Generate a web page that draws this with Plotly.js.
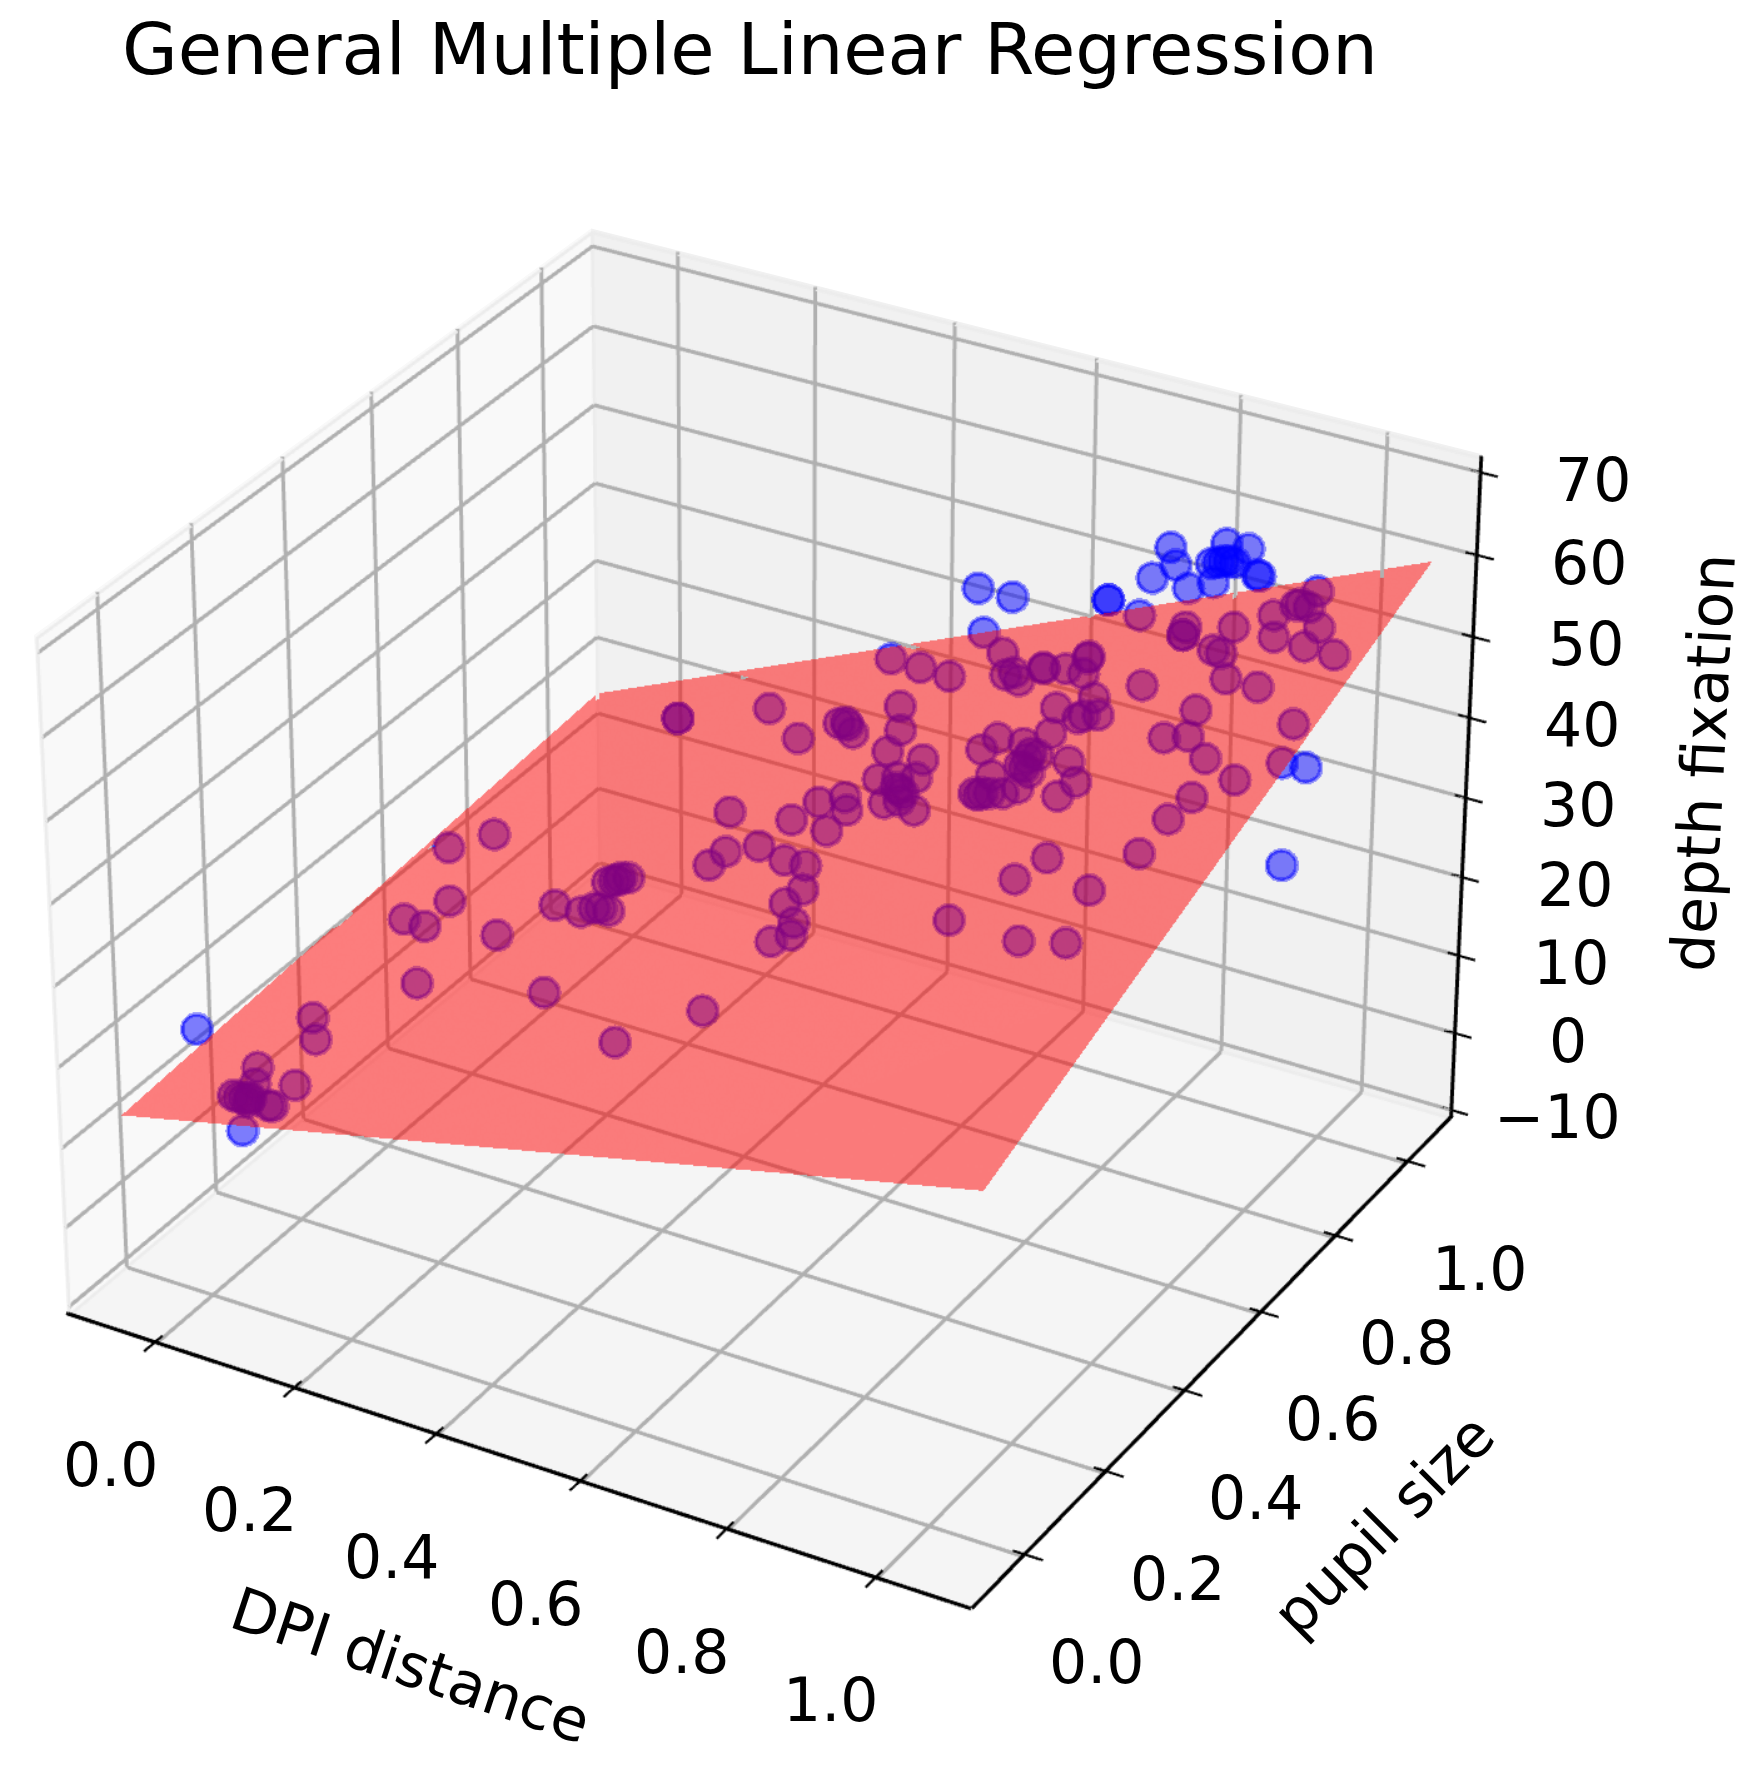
<!DOCTYPE html><html><head><meta charset="utf-8">
<script src="https://cdn.plot.ly/plotly-3.0.0.min.js"></script>
<style>html,body{margin:0;padding:0;width:1753px;height:1775px;overflow:hidden;background:#fff}
#g{position:absolute;left:-2832px;top:-2717px;width:7208px;height:7208px}</style></head><body><div id="g"></div>
<script>
const dpiDistance=[-0.112,0.119,-0.034,0.021,0.067,0.024,0.070,0.197,0.150,0.240,0.289,0.303,0.313,0.328,0.347,0.047,0.086,0.045,0.126,0.066,0.053,0.064,0.073,0.080,0.081,0.085,0.119,0.126,0.299,0.312,0.293,0.286,0.299,0.506,0.132,0.132,0.277,0.372,0.416,0.426,0.433,0.452,0.407,0.468,0.526,0.489,0.522,0.530,0.592,0.551,0.577,0.604,0.595,0.587,0.604,0.589,0.607,0.640,0.372,0.493,0.525,0.544,0.476,0.540,0.420,0.414,0.462,0.517,0.553,0.578,0.570,0.604,0.615,0.595,0.806,0.869,0.849,0.954,0.914,0.975,0.585,0.580,0.612,0.621,0.638,0.659,0.661,0.694,0.725,0.715,0.714,0.724,0.675,0.665,0.718,0.745,0.772,0.767,0.767,0.792,0.800,0.831,0.821,0.708,0.739,0.740,0.751,0.745,0.736,0.757,0.759,0.744,0.725,0.712,0.704,0.715,0.503,0.573,0.522,0.729,0.729,0.743,0.763,0.791,0.770,0.835,0.866,0.844,0.882,0.858,0.852,0.866,0.876,0.843,0.921,0.926,1.021,1.114,1.110,0.961,0.976,0.956,0.935,0.956,1.008,1.005,1.052,0.891,0.823,0.827,0.827,0.885,0.899,0.930,0.981,0.822,0.920,0.904,0.935,0.978,1.061,1.080,1.036,0.997,0.987,0.982];
const pupilSize=[0.149,-0.100,0.608,0.628,0.449,0.411,0.386,0.350,0.241,0.416,0.396,0.404,0.403,0.397,0.215,0.166,0.112,0.046,0.004,0.008,-0.020,-0.025,-0.027,-0.027,-0.025,-0.036,-0.043,-0.045,0.474,0.471,0.468,0.464,0.468,0.115,0.893,0.893,0.874,0.781,0.806,0.806,0.798,0.777,0.953,0.919,0.888,0.830,0.772,0.726,0.703,0.665,0.667,0.665,0.639,0.645,0.632,0.612,0.617,0.595,0.613,0.621,0.629,0.600,0.584,0.558,0.521,0.491,0.529,0.496,0.484,0.434,0.405,0.367,0.341,0.328,0.383,0.508,0.465,0.455,0.356,0.359,0.185,0.926,0.875,0.880,0.861,0.885,0.882,0.878,0.865,0.895,0.900,0.798,0.741,0.718,0.727,0.745,0.779,0.773,0.814,0.778,0.689,0.649,0.622,0.664,0.706,0.696,0.702,0.678,0.683,0.668,0.637,0.627,0.628,0.624,0.628,0.628,1.002,0.962,0.983,0.919,0.919,0.976,1.016,0.976,0.955,0.925,0.930,1.007,0.991,0.972,0.970,0.971,0.966,0.969,0.938,0.935,0.901,0.695,0.647,0.978,0.971,0.975,0.958,0.918,0.935,0.902,0.888,0.939,0.944,0.929,0.929,0.897,0.891,0.844,0.828,0.834,0.786,0.735,0.738,0.700,0.766,0.700,0.664,0.630,0.589,0.526];
const depthFixation=[12.6,17.8,17.1,19.3,19.9,18.2,19.6,23.4,21.1,25.3,26.6,27.1,27.4,27.7,26.3,17.5,18.3,16.8,18.7,17.1,16.6,16.9,17.1,17.3,17.3,17.4,18.2,18.4,27.7,28.1,27.4,27.2,27.6,29.0,25.5,25.5,31.1,33.6,35.5,35.9,36.0,36.4,37.2,39.0,40.6,38.4,38.7,38.2,39.7,37.9,38.7,39.4,38.8,38.6,38.9,38.2,38.7,39.3,31.6,35.5,36.6,36.7,34.5,35.9,31.9,31.4,33.3,34.4,35.2,35.1,34.5,34.7,34.6,33.9,39.5,43.1,41.9,43.7,41.0,42.2,31.7,43.2,43.4,43.7,43.9,45.0,45.1,46.0,46.7,47.1,47.1,45.3,42.8,42.1,43.8,44.9,46.3,46.1,46.9,46.9,45.2,45.2,44.4,42.3,44.0,43.8,44.2,43.6,43.4,43.7,43.2,42.6,42.1,41.7,41.6,41.9,46.3,48.5,42.0,53.6,53.6,49.7,56.9,57.0,55.8,57.3,58.5,59.6,60.5,59.2,59.0,59.5,59.7,58.7,60.4,60.5,62.3,52.0,42.2,56.2,56.4,56.0,55.0,54.5,56.2,55.2,55.9,53.3,51.5,51.2,51.2,52.1,52.3,51.9,52.8,48.9,50.3,48.7,49.5,49.5,52.9,51.5,49.9,48.3,47.2,45.7];
const planeX=[-0.0749,1.1036,1.1036,-0.0749];
const planeY=[-0.0700,-0.0700,1.0456,1.0393];
const planeZ=[12.94,36.10,61.88,17.42];
const xTicks=[0,.2,.4,.6,.8,1],yTicks=[0,.2,.4,.6,.8,1],zTicks=[-10,0,10,20,30,40,50,60,70];
const rx=[-.13,1.125],ry=[-.125,1.128],rz=[-11.39,72];
const [x0,x1]=rx,[y0,y1]=ry,[z0,z1]=rz;
const padXY=.05,padZ=3;
const ex=.004,ez=.3;
const xa=x0+ex,yb=y1-ex,za=z0+ez,zb=z1-ez;
function seg(list){const X=[],Y=[],Z=[];list.forEach(l=>{l.forEach(p=>{X.push(p[0]);Y.push(p[1]);Z.push(p[2])});X.push(null);Y.push(null);Z.push(null)});return {x:X,y:Y,z:Z};}
const line=(s,color,width)=>Object.assign({type:'scatter3d',mode:'lines',line:{color,width},hoverinfo:'skip',connectgaps:false},s);
const flat={ambient:1,diffuse:0,specular:0,roughness:1,fresnel:0};
const edges=seg([[[xa,y0,za],[xa,y0,zb],[xa,yb,zb],[x1,yb,zb]],[[xa,y0,za],[xa,yb,za],[x1,yb,za]],[[xa,yb,za],[xa,yb,zb]]]);
const grid=seg([...xTicks.map(v=>[[v,y0,za],[v,yb,za],[v,yb,z1]]),...yTicks.map(v=>[[x1,v,za],[xa,v,za],[xa,v,z1]]),...zTicks.map(v=>[[xa,y0,v],[xa,yb,v],[x1,yb,v]])]);
const axesL=seg([[[x0,y0-.001,z0+.5],[x1,y0-.001,z0+.5]],[[x1+.001,y0,z0+.5],[x1+.001,y1,z0+.5]],[[x1+.001,y1-.004,z0+.3],[x1+.001,y1-.004,z1]]]);
const ticks=seg([...xTicks.map(v=>[[v,y0+.014,z0+.6],[v,y0-.026,z0+.6]]),...yTicks.map(v=>[[x1-.014,v,z0+.6],[x1+.026,v,z0+.6]]),...zTicks.map(v=>[[x1-.014,yb,v],[x1+.024,yb,v]])]);
const dots=(size,symbol,opacity)=>({type:'scatter3d',mode:'markers',x:dpiDistance,y:pupilSize,z:depthFixation,marker:{size,symbol,color:'#0000ff',opacity},hoverinfo:'skip'});
const data=[line(edges,'#ececec',2.5),line(grid,'#b0b0b0',3),line(axesL,'#000',3),line(ticks,'#000',2),
dots(6.9,'circle',.5),dots(7.0,'circle-open',.4),dots(7.8,'circle-open',.4),
{type:'mesh3d',x:planeX,y:planeY,z:planeZ,i:[0,0],j:[1,2],k:[2,3],color:'#ff0000',opacity:.5,lighting:flat,flatshading:true,hoverinfo:'skip'}];
// back panes sit behind the WebGL canvas, using the scene's own view to place their corners
const SIZE=7208,LEFT=2832,TOP=2717,FOCAL=SIZE/(2*Math.tan(Math.PI/8)),EYE_DIST=8.399;
const eyeN=[.4330127,-.75,.5],camU=[.8660254,.5,0],camV=[-.25,.4330127,.8660254];
function paperOf(x,y,z){const p=[(x-x0)/(x1-x0)-.5,(y-y0)/(y1-y0)-.5,((z-z0)/(z1-z0)-.5)*.75];
 const dot=(a,b)=>a[0]*b[0]+a[1]*b[1]+a[2]*b[2],k=FOCAL/(EYE_DIST-dot(p,eyeN));
 return [.5+k*dot(p,camU)/SIZE,.5+k*dot(p,camV)/SIZE];}
const paneShape=(corners,color)=>({type:'path',layer:'below',xref:'paper',yref:'paper',line:{width:0},fillcolor:color,
 path:'M'+corners.map(c=>paperOf(...c).join(' ')).join('L')+'Z'});
const shapes=[paneShape([[x0,y0,z0],[x0,y1,z0],[x0,y1,z1],[x0,y0,z1]],'#f9f9f9'),paneShape([[x0,y1,z0],[x1,y1,z0],[x1,y1,z1],[x0,y1,z1]],'#f1f1f1'),paneShape([[x0,y0,z0],[x1,y0,z0],[x1,y1,z0],[x0,y1,z0]],'#f5f5f5')];
const F={family:'DejaVu Sans',size:60,color:'#000'};
const a3=(x,y,z,text,xs,ys)=>({x,y,z,text,showarrow:false,xshift:xs,yshift:ys,font:F,xanchor:'center',yanchor:'middle'});
const sceneAnn=[...xTicks.map(v=>a3(v,y0,z0,v.toFixed(1),-46,-119)),...yTicks.map(v=>a3(x1,v,z0,v.toFixed(1),73,-103)),...zTicks.map(v=>a3(x1,y1,v,v<0?'\u2212'+(-v):String(v),v<0?105:112,-9))];
const pap=(px,py,text,angle,size)=>({xref:'paper',yref:'paper',x:(px+LEFT)/SIZE,y:1-(py+TOP)/SIZE,text,textangle:angle,showarrow:false,font:{family:'DejaVu Sans',size,color:'#000'},xanchor:'center',yanchor:'middle'});
const cube={showgrid:false,showline:false,zeroline:false,showticklabels:false,ticks:'',showspikes:false,showbackground:false,title:{text:''}};
const aspX=(x1-x0+2*padXY)/(x1-x0),aspY=(y1-y0+2*padXY)/(y1-y0),aspZ=.75*(z1-z0+2*padZ)/(z1-z0);
const layout={width:SIZE,height:SIZE,margin:{l:0,r:0,t:0,b:0},showlegend:false,paper_bgcolor:'#fff',shapes,
annotations:[pap(750,49,'General Multiple Linear Regression',0,72),pap(410,1665,'DPI distance',18.4,60),pap(1383,1525,'pupil size',-45,60),pap(1703,763,'depth fixation',-87,60)],
scene:{bgcolor:'rgba(0,0,0,0)',domain:{x:[0,1],y:[0,1]},aspectmode:'manual',aspectratio:{x:aspX,y:aspY,z:aspZ},camera:{eye:{x:3.637,y:-6.299,z:4.2},center:{x:0,y:0,z:0},up:{x:0,y:0,z:1}},annotations:sceneAnn,
xaxis:Object.assign({},cube,{range:[x0-padXY,x1+padXY]}),
yaxis:Object.assign({},cube,{range:[y0-padXY,y1+padXY]}),
zaxis:Object.assign({},cube,{range:[z0-padZ,z1+padZ]})}};
Plotly.newPlot('g',data,layout,{displayModeBar:false,responsive:false});
</script></body></html>
